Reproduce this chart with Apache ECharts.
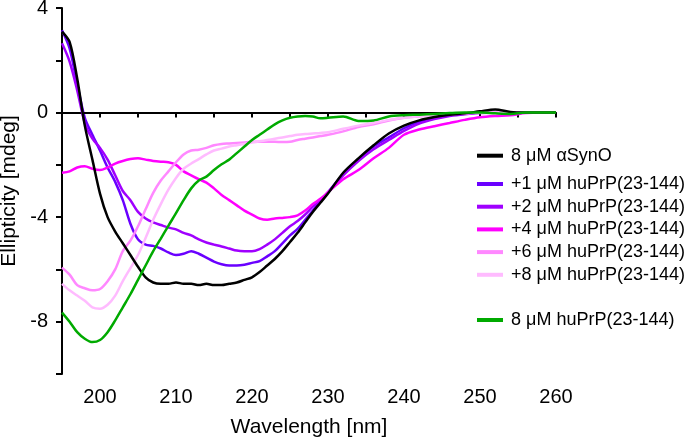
<!DOCTYPE html>
<html>
<head>
<meta charset="utf-8">
<script src="https://cdn.jsdelivr.net/npm/echarts@6/dist/echarts.min.js"></script>
<style>html,body{margin:0;padding:0;background:#fff}#c{width:685px;height:440px}</style>
</head>
<body>
<div id="c"></div>
<script>
const wavelengths = [195,196,197,198,199,200,201,202,203,204,205,206,207,208,209,210,211,212,213,214,215,216,217,218,219,220,221,222,223,224,225,226,227,228,229,230,232,234,236,238,240,242,244,246,248,250,252,254,256,258,260];

const aSynO = [3.1,2.7,1.3,-0.5,-1.8,-3.1,-4.0,-4.55,-5.0,-5.45,-5.9,-6.3,-6.5,-6.55,-6.55,-6.5,-6.55,-6.55,-6.6,-6.55,-6.6,-6.6,-6.55,-6.5,-6.4,-6.3,-6.1,-5.85,-5.6,-5.3,-4.95,-4.6,-4.2,-3.8,-3.45,-3.1,-2.3,-1.75,-1.25,-0.8,-0.5,-0.3,-0.17,-0.08,-0.03,0.05,0.12,0.02,0,0,0];
const prp1 = [3.15,2.45,1.1,-0.2,-0.85,-1.45,-2.1,-2.65,-3.35,-4.25,-4.85,-5.05,-5.1,-5.2,-5.35,-5.45,-5.4,-5.3,-5.4,-5.55,-5.7,-5.8,-5.85,-5.85,-5.82,-5.75,-5.68,-5.5,-5.3,-5.0,-4.7,-4.45,-4.1,-3.75,-3.4,-3.05,-2.35,-1.8,-1.3,-0.95,-0.6,-0.35,-0.2,-0.1,-0.05,0,0.02,0,0,0,0];
const prp2 = [2.65,1.95,0.85,-0.4,-1.0,-1.35,-1.8,-2.4,-3.0,-3.35,-3.8,-4.05,-4.2,-4.3,-4.4,-4.47,-4.6,-4.7,-4.85,-4.97,-5.05,-5.12,-5.2,-5.28,-5.3,-5.3,-5.22,-5.05,-4.85,-4.6,-4.35,-4.15,-3.9,-3.6,-3.35,-3.05,-2.4,-1.85,-1.4,-1.05,-0.7,-0.42,-0.25,-0.13,-0.06,-0.02,0,0,0,0,0];
const prp4 = [-2.3,-2.25,-2.1,-2.05,-2.15,-2.2,-2.1,-1.95,-1.85,-1.78,-1.75,-1.8,-1.85,-1.88,-1.9,-2.0,-2.25,-2.4,-2.55,-2.68,-2.9,-3.15,-3.35,-3.55,-3.75,-3.9,-4.05,-4.1,-4.05,-4.03,-4.0,-3.93,-3.75,-3.5,-3.3,-3.05,-2.55,-2.2,-1.75,-1.35,-0.85,-0.65,-0.52,-0.4,-0.28,-0.18,-0.13,-0.1,-0.02,0,0];
const prp6 = [-5.93,-6.2,-6.6,-6.72,-6.8,-6.75,-6.45,-6.0,-5.3,-4.9,-4.35,-3.7,-3.07,-2.6,-2.25,-1.9,-1.6,-1.45,-1.42,-1.35,-1.25,-1.2,-1.18,-1.16,-1.14,-1.12,-1.12,-1.12,-1.12,-1.13,-1.12,-1.05,-1.0,-0.95,-0.9,-0.85,-0.72,-0.55,-0.45,-0.3,-0.2,-0.15,-0.1,-0.06,-0.03,0,0,0,0,0,0];
const prp8 = [-6.55,-6.8,-7.0,-7.2,-7.45,-7.5,-7.35,-7.0,-6.45,-5.95,-5.45,-4.8,-4.1,-3.5,-2.95,-2.5,-2.15,-1.95,-1.78,-1.6,-1.45,-1.38,-1.3,-1.25,-1.2,-1.15,-1.1,-1.05,-1.0,-0.95,-0.9,-0.85,-0.82,-0.8,-0.78,-0.75,-0.62,-0.5,-0.4,-0.28,-0.2,-0.14,-0.1,-0.06,-0.03,0,0,0,0,0,0];
const prpOnly = [-7.65,-8.0,-8.4,-8.65,-8.78,-8.7,-8.4,-7.95,-7.45,-6.95,-6.4,-5.85,-5.3,-4.82,-4.33,-3.85,-3.35,-2.9,-2.6,-2.45,-2.2,-1.98,-1.8,-1.55,-1.3,-1.05,-0.85,-0.65,-0.45,-0.3,-0.2,-0.15,-0.13,-0.15,-0.22,-0.2,-0.15,-0.32,-0.3,-0.15,-0.1,-0.08,-0.05,-0.02,0,0,-0.03,-0.05,0,0,0];

const seriesNames = ['8 μM αSynO','+1 μM huPrP(23-144)','+2 μM huPrP(23-144)','+4 μM huPrP(23-144)','+6 μM huPrP(23-144)','+8 μM huPrP(23-144)','8 μM huPrP(23-144)'];
const seriesValues = [aSynO, prp1, prp2, prp4, prp6, prp8, prpOnly];
const seriesColors = ['#000000','#6a00ff','#a000ff','#ff00ff','#ff88ff','#ffbbff','#00aa00'];
const yTickLabels = [4,0,-4,-8];

const FONT = 'Liberation Sans, Arial, sans-serif';
const chart = echarts.init(document.getElementById('c'), null, {renderer:'canvas'});

const series = seriesNames.map((name, i) => ({
  name: name,
  type: 'line',
  data: wavelengths.map((w, j) => [w, seriesValues[i][j]]),
  showSymbol: false,
  smooth: 0.3,
  lineStyle: {color: seriesColors[i], width: 2.5},
  itemStyle: {color: seriesColors[i]},
  z: 3 + (i === 0 ? 6 : i),
  markLine: i === 0 ? {
    silent: true, symbol: ['none','none'], label: {show:false},
    lineStyle: {color:'#000', width: 2, type:'solid'},
    data: [{yAxis: 0}]
  } : undefined
}));

const legendBase = {
  orient: 'vertical', left: 477, icon: 'rect', itemWidth: 26, itemHeight: 4,
  itemGap: 4.7, padding: 0, selectedMode: false,
  textStyle: {fontFamily: FONT, fontSize: 18, color: '#000', lineHeight: 18, padding: [0,0,0,3]}
};

chart.setOption({
  animation: false,
  grid: {left: 62, right: 129, top: 8, bottom: 66, containLabel: false, outerBoundsMode: 'none'},
  legend: [
    Object.assign({}, legendBase, {top: 146.7, data: [seriesNames[0]]}),
    Object.assign({}, legendBase, {top: 175, data: seriesNames.slice(1,6)}),
    Object.assign({}, legendBase, {top: 311, data: [seriesNames[6]]})
  ],
  xAxis: {
    type: 'value', min: 195, max: 260, interval: 5,
    name: 'Wavelength [nm]', nameLocation: 'middle', nameGap: 43,
    nameTextStyle: {fontFamily: FONT, fontSize: 21, color: '#000'},
    axisLine: {lineStyle: {color:'#000', width: 2}},
    axisTick: {length: 5, lineStyle: {color:'#000', width: 2}},
    axisLabel: {fontFamily: FONT, fontSize: 20, color: '#000', margin: 13,
      formatter: v => (v % 10 === 0 ? String(v) : '')},
    splitLine: {show: false}
  },
  yAxis: {
    type: 'value', min: -10, max: 4, interval: 2,
    name: 'Ellipticity [mdeg]', nameLocation: 'middle', nameGap: 42,
    nameTextStyle: {fontFamily: FONT, fontSize: 21, color: '#000'},
    axisLine: {show: true, lineStyle: {color:'#000', width: 2}},
    axisTick: {show: true, length: 6, lineStyle: {color:'#000', width: 2}},
    axisLabel: {fontFamily: FONT, fontSize: 20, color: '#000', margin: 14,
      formatter: v => (yTickLabels.indexOf(v) >= 0 ? String(v) : '')},
    splitLine: {show: false}
  },
  series: series
});
</script>
</body>
</html>
